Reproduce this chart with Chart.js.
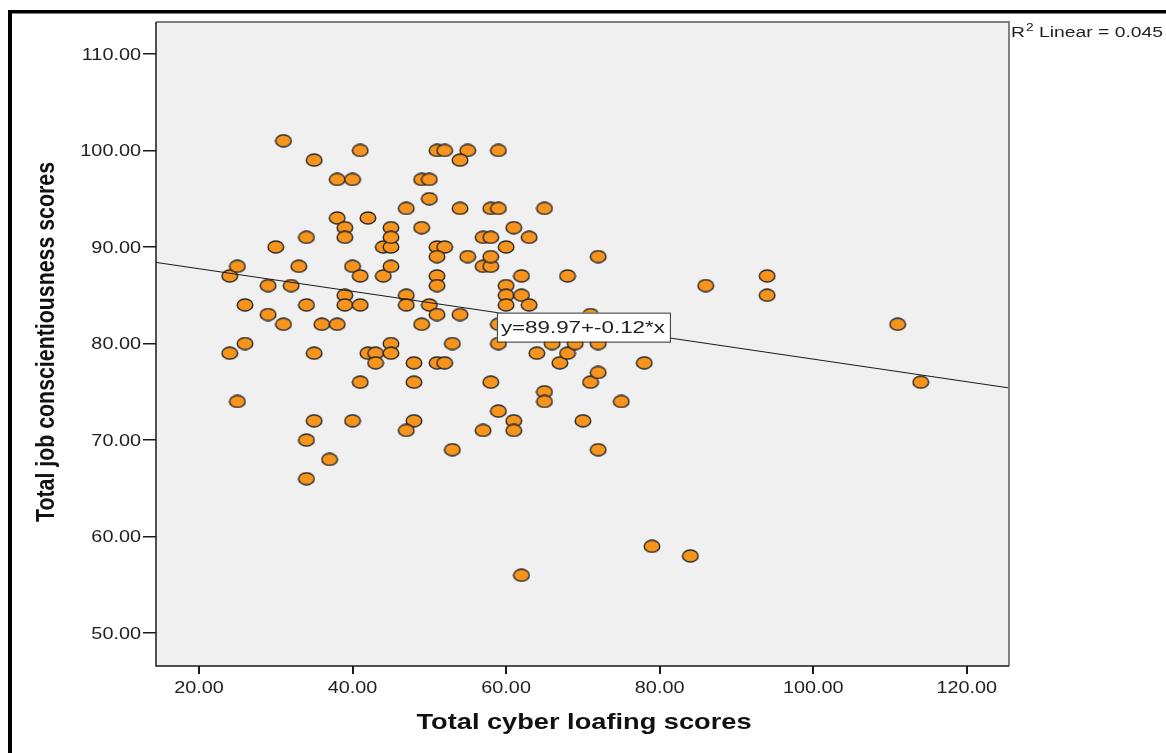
<!DOCTYPE html>
<html>
<head>
<meta charset="utf-8">
<script src="https://cdn.jsdelivr.net/npm/chart.js@4.4.1/dist/chart.umd.min.js"></script>
<style>
  html, body { margin: 0; padding: 0; background: #fff; }
  #wrap { width: 1166px; height: 753px; }
</style>
</head>
<body>
<div id="wrap"><canvas id="myChart"></canvas></div>
<script>
// data (x = cyber loafing, y = job conscientiousness)
const cyberLoafing = [
  31, 35, 38, 40, 41, 24, 25, 26, 24, 25, 26, 29, 30, 29, 31, 32, 33, 34, 34, 35,
  36, 38, 38, 39, 39, 39, 39, 40, 41, 41, 42, 42, 43, 43, 44, 44, 45, 45, 45, 45,
  45, 45, 47, 47, 47, 49, 49, 50, 50, 50, 49, 51, 52, 55, 54, 59, 51, 52, 51, 51,
  51, 54, 55, 54, 51, 53, 51, 52, 48, 48, 41, 35, 40, 48, 47, 34, 37, 34, 53, 57,
  59, 61, 61, 58, 57, 58, 58, 57, 58, 58, 59, 60, 61, 63, 65, 60, 60, 60, 62, 62,
  63, 59, 59, 64, 65, 65, 66, 67, 68, 69, 68, 72, 71, 71, 72, 72, 72, 70, 75, 78,
  79, 84, 62, 86, 94, 94, 111, 114
];
const conscientiousness = [
  101, 99, 97, 97, 100, 87, 88, 84, 79, 74, 80, 86, 90, 83, 82, 86, 88, 91, 84, 79,
  82, 82, 93, 92, 91, 85, 84, 88, 87, 84, 93, 79, 79, 78, 87, 90, 90, 92, 91, 88,
  80, 79, 85, 84, 94, 92, 97, 97, 95, 84, 82, 100, 100, 100, 99, 100, 90, 90, 89, 87,
  86, 94, 89, 83, 83, 80, 78, 78, 78, 76, 76, 72, 72, 72, 71, 70, 68, 66, 69, 71,
  73, 72, 71, 76, 88, 88, 89, 91, 91, 94, 94, 90, 92, 91, 94, 86, 85, 84, 87, 85,
  84, 82, 80, 79, 75, 74, 80, 78, 79, 80, 87, 89, 83, 76, 77, 80, 69, 72, 74, 78,
  59, 58, 56, 86, 87, 85, 82, 76
];
const xTicks = [20, 40, 60, 80, 100, 120];
const yTicks = [50, 60, 70, 80, 90, 100, 110];
// fit line end points as seen at the plot edges
const fitX = [14.4, 125.5];
const fitY = [88.4, 75.4];
const fitText = 'y=89.97+-0.12*x';
const r2Text = '0.045';

const FONT = '"Liberation Sans", Arial, sans-serif';
const SX = 1.167; // picture is stretched sideways

function dotImage() {
  const c = document.createElement('canvas');
  c.width = 18; c.height = 14;
  const g = c.getContext('2d');
  g.beginPath();
  g.ellipse(9, 7, 7.8, 6, 0, 0, Math.PI * 2);
  g.fillStyle = '#F7941D';
  g.fill();
  g.lineWidth = 1.4;
  g.strokeStyle = '#262626';
  g.stroke();
  return c;
}

function putText(ctx, text, x, y, font, k, align, base) {
  ctx.save();
  ctx.font = font;
  ctx.translate(x, y);
  ctx.scale(k, 1);
  ctx.textAlign = align;
  ctx.textBaseline = base;
  ctx.fillText(text, 0, 0);
  ctx.restore();
}
function fitWidth(ctx, text, font, w) {
  ctx.save();
  ctx.font = font;
  const m = ctx.measureText(text).width;
  ctx.restore();
  return w / m;
}

const decor = {
  id: 'decor',
  beforeDraw(chart) {
    const { ctx, chartArea: a } = chart;
    ctx.save();
    ctx.fillStyle = '#fff';
    ctx.fillRect(0, 0, chart.width, chart.height);
    ctx.fillStyle = '#f0f0f0';
    ctx.fillRect(a.left, a.top, a.right - a.left, a.bottom - a.top);
    ctx.restore();
  },
  afterDraw(chart) {
    const { ctx, chartArea: a, scales } = chart;
    ctx.save();
    // plot frame
    ctx.strokeStyle = '#808080';
    ctx.lineWidth = 2;
    ctx.beginPath();
    ctx.moveTo(a.left, a.top); ctx.lineTo(a.right, a.top); ctx.lineTo(a.right, a.bottom);
    ctx.stroke();
    ctx.strokeStyle = '#1a1a1a';
    ctx.lineWidth = 1.5;
    ctx.beginPath();
    ctx.moveTo(a.left, a.top); ctx.lineTo(a.left, a.bottom); ctx.lineTo(a.right, a.bottom);
    ctx.stroke();

    // outer black border (top and left)
    ctx.fillStyle = '#000';
    ctx.fillRect(8, 10, chart.width - 8, 3.5);
    ctx.fillRect(8, 10, 4, chart.height - 10);

    // tick labels
    ctx.fillStyle = '#222';
    const tf = '17px ' + FONT;
    scales.y.ticks.forEach(t => {
      putText(ctx, t.value.toFixed(2), 141, scales.y.getPixelForValue(t.value) + 1, tf, SX, 'right', 'middle');
    });
    scales.x.ticks.forEach(t => {
      putText(ctx, t.value.toFixed(2), scales.x.getPixelForValue(t.value), 693, tf, SX, 'center', 'alphabetic');
    });

    // axis titles
    ctx.fillStyle = '#111';
    const xf = 'bold 22px ' + FONT;
    const xt = 'Total cyber loafing scores';
    putText(ctx, xt, 584, 729, xf, fitWidth(ctx, xt, xf, 335), 'center', 'alphabetic');

    const yf = 'bold 21px ' + FONT;
    const yt = 'Total job conscientiousness scores';
    ctx.save();
    ctx.font = yf;
    const k = 360 / ctx.measureText(yt).width;
    ctx.translate(47, 342);
    ctx.rotate(-Math.PI / 2);
    ctx.scale(k, 1.2);
    ctx.textAlign = 'center';
    ctx.textBaseline = 'middle';
    ctx.fillText(yt, 0, 0);
    ctx.restore();

    // R squared note, right of the plot
    ctx.fillStyle = '#222';
    const rf = '14px ' + FONT;
    const rk = 1.38;
    putText(ctx, 'R', 1011, 37, rf, rk, 'left', 'alphabetic');
    ctx.font = rf;
    let x = 1011 + ctx.measureText('R').width * rk + 1;
    putText(ctx, '2', x, 31, '10px ' + FONT, rk, 'left', 'alphabetic');
    ctx.font = '10px ' + FONT;
    x += ctx.measureText('2').width * rk;
    putText(ctx, ' Linear = ' + r2Text, x, 37, rf, rk, 'left', 'alphabetic');

    // fit equation box
    const bx = scales.x.getPixelForValue(58.8);
    const by = scales.y.getPixelForValue(83.2);
    ctx.fillStyle = '#fff';
    ctx.fillRect(bx, by, 173, 29);
    ctx.strokeStyle = '#333';
    ctx.lineWidth = 1;
    ctx.strokeRect(bx + 0.5, by + 0.5, 173, 29);
    ctx.fillStyle = '#222';
    const ef = '17px ' + FONT;
    putText(ctx, fitText, bx + 4, by + 15.5, ef, fitWidth(ctx, fitText, ef, 164), 'left', 'middle');
    ctx.restore();
  }
};

const points = cyberLoafing.map((v, i) => ({ x: v, y: conscientiousness[i] }));
const line = fitX.map((v, i) => ({ x: v, y: fitY[i] }));

new Chart(document.getElementById('myChart'), {
  type: 'scatter',
  data: {
    datasets: [
      {
        type: 'line',
        data: line,
        borderColor: '#1a1a1a',
        borderWidth: 1,
        pointRadius: 0,
        fill: false,
        order: 0
      },
      {
        data: points,
        pointStyle: dotImage(),
        pointRadius: 7,
        order: 1
      }
    ]
  },
  options: {
    responsive: true,
    maintainAspectRatio: false,
    animation: false,
    events: [],
    layout: { padding: { left: 0, top: 22, right: 157, bottom: 0 } },
    plugins: {
      legend: { display: false },
      tooltip: { enabled: false }
    },
    scales: {
      x: {
        type: 'linear',
        min: 14.4,
        max: 125.5,
        afterBuildTicks: s => { s.ticks = xTicks.map(v => ({ value: v })); },
        afterFit: s => { s.height = 87; },
        ticks: { display: false },
        border: { display: false },
        grid: { drawOnChartArea: false, tickLength: 8, color: '#1a1a1a', lineWidth: 2 }
      },
      y: {
        type: 'linear',
        min: 46.6,
        max: 113.3,
        afterBuildTicks: s => { s.ticks = yTicks.map(v => ({ value: v })); },
        afterFit: s => { s.width = 156; },
        ticks: { display: false },
        border: { display: false },
        grid: { drawOnChartArea: false, tickLength: 13, color: '#1a1a1a', lineWidth: 1.5 }
      }
    }
  },
  plugins: [decor]
});
</script>
</body>
</html>
